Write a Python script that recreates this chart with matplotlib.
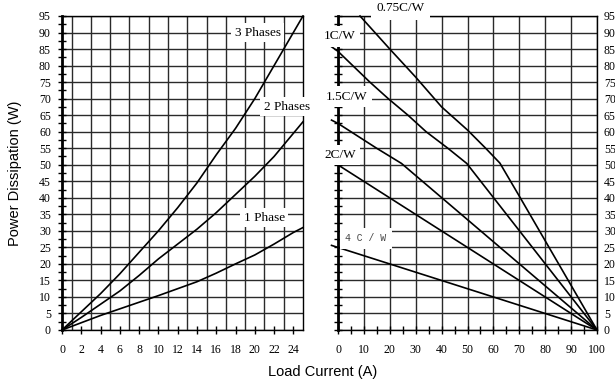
import matplotlib
matplotlib.use("Agg")
import matplotlib.pyplot as plt
import numpy as np
from matplotlib.ticker import MultipleLocator, FixedLocator

# ---------------- data ----------------
current = [0, 2, 4, 6, 8, 10, 12, 14, 16, 18, 20, 22, 24, 25]
three_phases = [0, 5.5, 11, 17, 23.5, 30, 37, 44.5, 53, 61, 70, 80, 90, 95]
two_phases = [0, 3.8, 7.8, 11.8, 16.5, 21.5, 26, 30.5, 35.5, 41, 46.5, 52.5, 59.5, 63]
one_phase = [0, 2.2, 4.4, 6.4, 8.4, 10.4, 12.5, 14.6, 17.2, 20, 22.7, 26, 29.5, 31]

r075_x = [8.5, 20, 30, 40, 50, 57, 62.5, 70, 100]
r075_y = [95, 85, 76.5, 67.5, 60.5, 55, 50.5, 40.5, 0]
r1_x = [-2.5, 0, 12.3, 19.4, 27, 34, 42.4, 49.7, 100]
r1_y = [85.7, 84.3, 75, 70, 65, 60, 55, 50.4, 0]
r15_x = [-2.5, 0, 14.9, 24.5, 100]
r15_y = [63.5, 62.5, 55, 50.4, 0]
r2_x = [-2.5, 100]
r2_y = [51.2, 0]
r4_x = [-2.5, 100]
r4_y = [25.6, 0]

left_xticks = list(range(0, 25, 2))
right_xticks = list(range(0, 101, 10))
yticks = list(range(0, 96, 5))

SERIF = "Liberation Serif"
SANS = "Liberation Sans"
TICK_FS = 8.5

fig = plt.figure(figsize=(6.15, 3.83), dpi=100)
fig.patch.set_facecolor("white")

axL = fig.add_axes([62 / 615, 1 - 330 / 383, 241 / 615, 314 / 383])
axR = fig.add_axes([338 / 615, 1 - 330 / 383, 259 / 615, 314 / 383])

grid_kw = dict(color="#2a2a2a", linewidth=1.0)

for ax in (axL, axR):
    ax.set_ylim(0, 95)
    ax.yaxis.set_major_locator(FixedLocator(yticks))
    ax.yaxis.set_minor_locator(MultipleLocator(2.5))
    ax.grid(True, axis="y", which="major", **grid_kw)
    for s in ax.spines.values():
        s.set_linewidth(1.0)
        s.set_color("black")
    ax.spines["left"].set_linewidth(2.0)
    ax.set_axisbelow(True)

# ---- left panel ----
axL.set_xlim(0, 25)
axL.xaxis.set_major_locator(FixedLocator(left_xticks))
axL.xaxis.set_minor_locator(FixedLocator(list(range(1, 25, 2))))
axL.grid(True, axis="x", which="minor", **grid_kw)
axL.tick_params(axis="x", which="major", direction="inout", length=6, width=1,
                labelsize=TICK_FS, pad=7)
axL.tick_params(axis="x", which="minor", length=0)
axL.tick_params(axis="y", which="both", direction="inout", length=6, width=1,
                labelsize=TICK_FS, pad=5)
for lab in axL.get_xticklabels() + axL.get_yticklabels():
    lab.set_family(SERIF)

axL.plot(current, three_phases, color="black", lw=1.2, clip_on=False)
axL.plot(current, two_phases, color="black", lw=1.2, clip_on=False)
axL.plot(current, one_phase, color="black", lw=1.2, clip_on=False)

box = dict(facecolor="white", edgecolor="none", pad=2.5)
axL.text(20.3, 90, "3 Phases", family=SERIF, fontsize=9.5, ha="center", va="center",
         bbox=box, clip_on=False, zorder=5)
axL.text(23.3, 67.5, "2 Phases", family=SERIF, fontsize=9.5, ha="center", va="center",
         bbox=box, clip_on=False, zorder=5)
axL.text(21.0, 34, "1 Phase", family=SERIF, fontsize=9.5, ha="center", va="center",
         bbox=box, clip_on=False, zorder=5)

# ---- right panel ----
axR.set_xlim(0, 100)
axR.xaxis.set_major_locator(FixedLocator(right_xticks))
axR.xaxis.set_minor_locator(MultipleLocator(5))
axR.grid(True, axis="x", which="major", **grid_kw)
axR.tick_params(axis="x", which="both", direction="inout", length=6, width=1,
                labelsize=TICK_FS, pad=7)
axR.tick_params(axis="y", which="both", direction="inout", length=6, width=1,
                labelsize=TICK_FS, left=True, right=False, labelleft=False,
                labelright=True)
axR.tick_params(axis="y", which="major", pad=2)
for lab in axR.get_xticklabels() + axR.get_yticklabels():
    lab.set_family(SERIF)

for xs, ys in ((r075_x, r075_y), (r1_x, r1_y), (r15_x, r15_y), (r2_x, r2_y), (r4_x, r4_y)):
    axR.plot(xs, ys, color="black", lw=1.2, clip_on=False)

box2 = dict(facecolor="white", edgecolor="none", pad=3)
axR.text(24, 97.3, "0.75C/W", family=SERIF, fontsize=9.5, ha="center", va="center",
         bbox=dict(facecolor="white", edgecolor="none", pad=4), clip_on=False, zorder=5)
axR.text(0.8, 88.8, "1C/W", family=SERIF, fontsize=9.5, ha="center", va="center",
         bbox=box2, clip_on=False, zorder=5)
axR.text(3.3, 70.6, "1.5C/W", family=SERIF, fontsize=9.5, ha="center", va="center",
         bbox=box2, clip_on=False, zorder=5)
axR.text(0.8, 53.0, "2C/W", family=SERIF, fontsize=9.5, ha="center", va="center",
         bbox=box2, clip_on=False, zorder=5)
axR.text(10.8, 27.8, "4 C / W", family="Liberation Mono", fontsize=7, color="#444444",
         ha="center", va="center",
         bbox=dict(facecolor="white", edgecolor="none", pad=4), clip_on=False, zorder=5)

axL.set_ylabel("Power Dissipation (W)", family=SANS, fontsize=10.5, labelpad=12)
fig.text(323 / 615, 1 - 372 / 383, "Load Current (A)", family=SANS, fontsize=10.5,
         ha="center", va="center")

fig.savefig("out.png", dpi=100, facecolor="white")
